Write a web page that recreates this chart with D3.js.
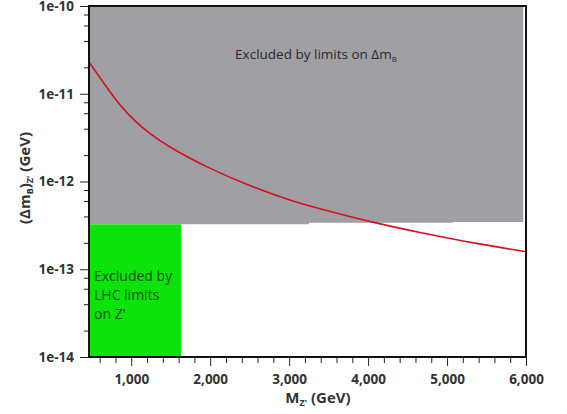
<!DOCTYPE html>
<html>
<head>
<meta charset="utf-8">
<script src="https://d3js.org/d3.v7.min.js"></script>
<style>
body { margin: 0; background: #fff; }
text { font-family: "Open Sans", "DejaVu Sans", sans-serif; }
</style>
</head>
<body>
<div id="chart-area"></div>
<script>
/*
*    chart: Z' contribution to delta m_B
*/
// red curve
var curveM = [465, 674, 843, 1096, 1477, 1984, 2513, 3020, 3565, 4072, 4668, 5214, 6000];
var curveVal = [2.3e-11, 1.24e-11, 7.6e-12, 4.3e-12, 2.45e-12, 1.41e-12, 8.8e-13, 6.0e-13, 4.45e-13, 3.4e-13, 2.6e-13, 2.08e-13, 1.58e-13];
// lower edge of the grey delta m_B exclusion
var limitM = [465, 3250, 5075, 5965];
var limitVal = [3.25e-13, 3.38e-13, 3.45e-13, 3.45e-13];
// LHC limit on Z' mass
var lhcM = 1630;
var xTicks = [1000, 2000, 3000, 4000, 5000, 6000];
var yTicks = [1e-10, 1e-11, 1e-12, 1e-13, 1e-14];

var margin = {left: 89, right: 41, top: 6, bottom: 57};
var width = 567 - margin.left - margin.right;
var height = 414 - margin.top - margin.bottom;

var svg = d3.select("#chart-area").append("svg")
		.attr("width", 567)
		.attr("height", 414);
var g = svg.append("g")
		.attr("transform", "translate(" + margin.left + "," + margin.top + ")");

var x = d3.scaleLinear().domain([465, 6000]).range([0, width]);
var y = d3.scaleLog().domain([1e-14, 1e-10]).range([height, 0]);

// grey area, from the top down to the limit
var limits = limitM.map((m, i) => { return {m: m, v: limitVal[i]}; });
var area = d3.area()
		.x((d) => { return x(d.m); })
		.y0(0)
		.y1((d) => { return y(d.v); })
		.curve(d3.curveStepAfter);
g.append("path")
		.datum(limits)
		.attr("d", area)
		.attr("fill", "#a09fa4");

// green LHC region
g.append("rect")
		.attr("x", x(465))
		.attr("y", y(limitVal[0]))
		.attr("width", x(lhcM) - x(465))
		.attr("height", y(1e-14) - y(limitVal[0]))
		.attr("fill", "#0be30b");

// curve
var pts = curveM.map((m, i) => { return {m: m, v: curveVal[i]}; });
var line = d3.line()
		.x((d) => { return x(d.m); })
		.y((d) => { return y(d.v); })
		.curve(d3.curveBasis);
g.append("path")
		.datum(pts)
		.attr("d", line)
		.attr("fill", "none")
		.attr("stroke", "#d4121f")
		.attr("stroke-width", 1.6);

// minor ticks
var yMinor = [];
yTicks.slice(1).forEach((t) => {
	[2, 4, 6, 8].forEach((k) => { yMinor.push(t * k); });
});
var xMinor = d3.range(600, 6001, 200).filter((v) => { return v % 1000 != 0; });

g.append("g")
		.call(d3.axisLeft(y).tickValues(yMinor).tickSize(5).tickFormat(""))
		.call((s) => { s.select(".domain").remove(); });
g.append("g")
		.attr("transform", "translate(0," + height + ")")
		.call(d3.axisBottom(x).tickValues(xMinor).tickSize(6).tickFormat(""))
		.call((s) => { s.select(".domain").remove(); });

var yAxis = g.append("g")
		.call(d3.axisLeft(y).tickValues(yTicks).tickSize(9).tickPadding(6)
			.tickFormat((d) => { return "1e" + Math.round(Math.log10(d)); }));
yAxis.select(".domain").remove();
yAxis.selectAll("text")
		.attr("font-size", 13.5)
		.attr("font-weight", "bold")
		.attr("fill", "#333")
		.attr("font-family", "'Open Sans', sans-serif");

var xAxis = g.append("g")
		.attr("transform", "translate(0," + height + ")")
		.call(d3.axisBottom(x).tickValues(xTicks).tickSize(9).tickPadding(8)
			.tickFormat(d3.format(",")));
xAxis.select(".domain").remove();
xAxis.selectAll("text")
		.attr("font-size", 13.5)
		.attr("font-weight", "bold")
		.attr("fill", "#333")
		.attr("font-family", "'Open Sans', sans-serif");
svg.selectAll(".tick line").attr("stroke", "#222");

// frame
g.append("rect")
		.attr("width", width)
		.attr("height", height)
		.attr("fill", "none")
		.attr("stroke", "#111")
		.attr("stroke-width", 2);

// labels inside
var t1 = g.append("text")
		.attr("x", x(3340))
		.attr("y", 53)
		.attr("text-anchor", "middle")
		.attr("font-size", 13.5)
		.attr("fill", "#2b2b2e");
t1.append("tspan").text("Excluded by limits on \u0394m");
t1.append("tspan").attr("font-size", 8).attr("dy", 3).text("B");

var t2 = g.append("text")
		.attr("x", 5)
		.attr("y", 275)
		.attr("font-size", 14)
		.attr("fill", "#0d4f10");
["Excluded by", "LHC limits", "on Z'"].forEach((s, i) => {
	t2.append("tspan").attr("x", 5).attr("dy", i == 0 ? 0 : 19).text(s);
});

// axis titles
var xt = svg.append("text")
		.attr("x", 318)
		.attr("y", 403)
		.attr("text-anchor", "middle")
		.attr("font-size", 15)
		.attr("font-weight", "bold")
		.attr("fill", "#333");
xt.append("tspan").text("M");
xt.append("tspan").attr("font-size", 9).attr("dy", 3).text("Z'");
xt.append("tspan").attr("dy", -3).text(" (GeV)");

var yt = svg.append("text")
		.attr("transform", "translate(30,178) rotate(-90)")
		.attr("text-anchor", "middle")
		.attr("font-size", 15)
		.attr("font-weight", "bold")
		.attr("fill", "#333");
yt.append("tspan").text("(\u0394m");
yt.append("tspan").attr("font-size", 9).attr("dy", 3).text("B");
yt.append("tspan").attr("dy", -3).text(")");
yt.append("tspan").attr("font-size", 9).attr("dy", 3).text("Z'");
yt.append("tspan").attr("dy", -3).text(" (GeV)");
</script>
</body>
</html>
